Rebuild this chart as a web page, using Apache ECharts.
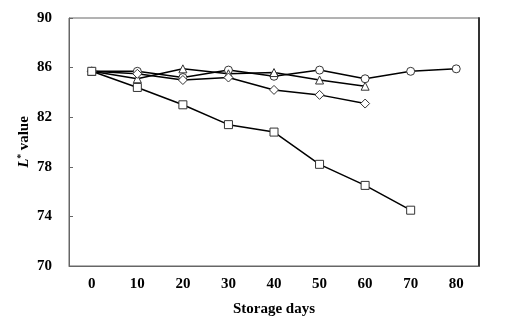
<!DOCTYPE html>
<html><head><meta charset="utf-8">
<script src="https://cdn.jsdelivr.net/npm/echarts@6/dist/echarts.min.js"></script>
<style>html,body{margin:0;padding:0;background:#fff}#c{width:519px;height:322px}</style>
</head><body><div id="c"></div>
<script>
const days = ['0','10','20','30','40','50','60','70','80'];
const yTicks = [70,74,78,82,86,90];
const circleSeries = [85.7,85.7,85.2,85.8,85.3,85.8,85.1,85.7,85.9];
const triangleSeries = [85.7,85.1,85.9,85.5,85.6,85.0,84.5];
const diamondSeries = [85.7,85.5,85.0,85.2,84.2,83.8,83.1];
const squareSeries = [85.7,84.4,83.0,81.4,80.8,78.2,76.5,74.5];

const font = "'Liberation Serif','Times New Roman',serif";
function mk(name, data, symbol, size) {
  return {
    name, type: 'line', data, symbol, symbolSize: size, showSymbol: true,
    lineStyle: {color: '#000', width: 1.5},
    itemStyle: {color: '#fff', borderColor: '#333', borderWidth: 1},
    emphasis: {disabled: true}, animation: false, z: 3
  };
}
const chart = echarts.init(document.getElementById('c'));
chart.setOption({
  animation: false,
  grid: {left: 69, right: 40, top: 18, bottom: 54, show: true, borderColor: '#666', borderWidth: 1},
  xAxis: {
    type: 'category', data: days, boundaryGap: true,
    axisLine: {lineStyle: {color: '#666', width: 1}},
    axisTick: {inside: true, alignWithLabel: true, length: 4, lineStyle: {color: '#666'}},
    axisLabel: {color: '#000', fontFamily: font, fontWeight: 'bold', fontSize: 15, margin: 11},
    name: 'Storage days', nameLocation: 'middle', nameGap: 36, nameMoveOverlap: false,
    nameTextStyle: {color: '#000', fontFamily: font, fontWeight: 'bold', fontSize: 15}
  },
  yAxis: [{
    type: 'value', min: 70, max: 90, interval: 4,
    splitLine: {show: false},
    axisLine: {show: true, lineStyle: {color: '#666', width: 1}},
    axisTick: {show: true, inside: true, length: 4, lineStyle: {color: '#666'}},
    axisLabel: {color: '#000', fontFamily: font, fontWeight: 'bold', fontSize: 15, margin: 17},
    name: '{it|L}{sup|*} {n|value}', nameLocation: 'middle', nameGap: 37, nameRotate: 90, nameMoveOverlap: false,
    nameTextStyle: {
      color: '#000',
      rich: {
        it: {fontFamily: font, fontWeight: 'bold', fontStyle: 'italic', fontSize: 15, color: '#000'},
        sup: {fontFamily: font, fontWeight: 'bold', fontSize: 10, color: '#000', verticalAlign: 'top', padding: [0,0,6,0]},
        n: {fontFamily: font, fontWeight: 'bold', fontSize: 15, color: '#000'}
      }
    }
  }, {
    type: 'value', min: 70, max: 90, interval: 4, position: 'right',
    splitLine: {show: false}, axisLabel: {show: false}, axisTick: {show: false},
    axisLine: {show: true, lineStyle: {color: '#333', width: 2}}
  }],
  series: [
    mk('circle', circleSeries, 'circle', 8),
    mk('triangle', triangleSeries, 'triangle', 8),
    mk('diamond', diamondSeries, 'diamond', 9),
    mk('square', squareSeries, 'rect', 8)
  ]
});
</script></body></html>
